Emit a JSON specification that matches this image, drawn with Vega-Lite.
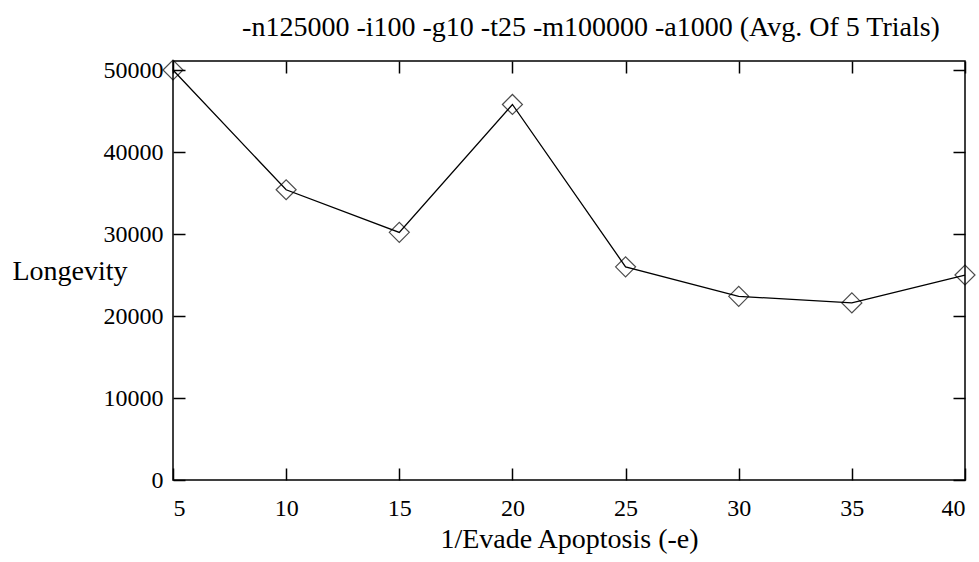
{
  "$schema": "https://vega.github.io/schema/vega-lite/v6.json",
  "width": 792,
  "height": 419,
  "autosize": {"type": "none"},
  "padding": {"left": 173, "top": 61, "right": 14, "bottom": 82},
  "background": "white",
  "config": {
    "view": {"stroke": "black", "strokeWidth": 1.5},
    "font": "Liberation Serif",
    "title": {"font": "Liberation Serif, Times New Roman, serif", "fontSize": 28, "fontWeight": "normal", "color": "black"},
    "axis": {"grid": false, "domain": false, "labelFont": "Liberation Serif", "titleFont": "Liberation Serif", "labelFontSize": 24, "titleFontSize": 28, "titleFontWeight": "normal", "labelColor": "black", "titleColor": "black", "tickColor": "black", "tickWidth": 1.5, "tickSize": 12}
  },
  "title": {"text": "-n125000 -i100 -g10 -t25 -m100000 -a1000 (Avg. Of 5 Trials)", "font": "Liberation Serif, Times New Roman, serif", "fontSize": 28, "fontWeight": "normal", "color": "black", "anchor": "middle", "dx": 22, "baseline": "alphabetic", "offset": -6},
  "data": {"values": [
    {"e": 5, "longevity": 50000},
    {"e": 10, "longevity": 35400},
    {"e": 15, "longevity": 30200},
    {"e": 20, "longevity": 45800},
    {"e": 25, "longevity": 26000},
    {"e": 30, "longevity": 22400},
    {"e": 35, "longevity": 21600},
    {"e": 40, "longevity": 25000}
  ]},
  "layer": [
    {
      "mark": {"type": "line", "color": "black", "strokeWidth": 1.3},
      "encoding": {
        "x": {"field": "e", "type": "quantitative", "scale": {"domain": [5, 40], "nice": false, "zero": false},
          "axis": {"orient": "bottom", "offset": -12, "values": [5, 10, 15, 20, 25, 30, 35, 40], "format": "d", "labelPadding": 16, "title": "1/Evade Apoptosis (-e)", "titlePadding": 5}},
        "y": {"field": "longevity", "type": "quantitative", "scale": {"domain": [0, 51100], "nice": false},
          "axis": {"orient": "left", "offset": -12, "values": [0, 10000, 20000, 30000, 40000, 50000], "format": "d", "labelPadding": 10, "title": "Longevity", "titleAngle": 0, "titleAlign": "left", "titleBaseline": "middle", "titleX": -173, "titleY": 210}}
      }
    },
    {
      "mark": {"type": "point", "shape": "diamond", "filled": false, "color": "black", "size": 400, "strokeWidth": 1.2},
      "encoding": {
        "x": {"field": "e", "type": "quantitative", "scale": {"domain": [5, 40], "nice": false, "zero": false},
          "axis": {"orient": "top", "offset": -12, "values": [5, 10, 15, 20, 25, 30, 35, 40], "labels": false, "title": null}},
        "y": {"field": "longevity", "type": "quantitative", "scale": {"domain": [0, 51100], "nice": false},
          "axis": {"orient": "right", "offset": -12, "values": [0, 10000, 20000, 30000, 40000, 50000], "labels": false, "title": null}}
      }
    }
  ],
  "resolve": {"axis": {"x": "independent", "y": "independent"}}
}
